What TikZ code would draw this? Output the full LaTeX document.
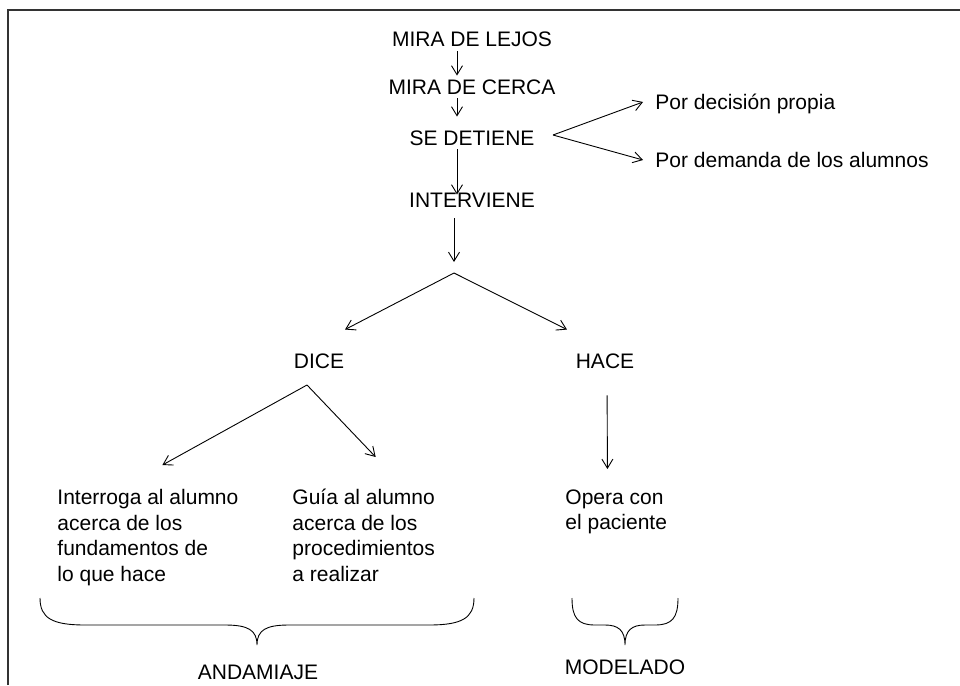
\documentclass[tikz,border=0pt]{standalone}
\usepackage{fontspec}
\setmainfont{Liberation Sans}
\usetikzlibrary{arrows.meta}

\begin{document}
\begin{tikzpicture}[>={Straight Barb[length=9pt,width=11pt]}, x=1pt, y=-1pt, line width=0.9pt,
    word/.style={anchor=base, inner sep=4pt, text height=14pt, text depth=0pt, font=\fontsize{21}{25.5}\selectfont},
    block/.style={anchor=north west, inner sep=0pt, align=left, font=\fontsize{21}{25.5}\selectfont}]
    \useasboundingbox (0,0) rectangle (960,685);
    % frame
    \draw [line width=1.5pt, black!80] (8,685) -- (8,10) -- (960,10);

    % what the teacher does
    \node (lejos) at (472,47) [word] {MIRA DE LEJOS};
    \node (cerca) at (472,94) [word] {MIRA DE CERCA};
    \node (detiene) at (472,145) [word] {SE DETIENE};
    \node (interviene) at (472,207) [word] {INTERVIENE};

    \node (propia) at (651,109) [word, anchor=base west] {Por decisión propia};
    \node (demanda) at (651,167) [word, anchor=base west] {Por demanda de los alumnos};

    \node (dice) at (319,368) [word] {DICE};
    \node (hace) at (605,368) [word] {HACE};

    \node (interroga) at (57,489) [block] {Interroga al alumno\\acerca de los\\fundamentos de\\lo que hace};
    \node (guia) at (292,489) [block] {Guía al alumno\\acerca de los\\procedimientos\\a realizar};
    \node (opera) at (565,489) [block] {Opera con\\el paciente};

    \node (andamiaje) at (258,679) [word] {ANDAMIAJE};
    \node (modelado) at (625,674) [word] {MODELADO};

    \coordinate (stop) at (553,135);
    \coordinate (split) at (454,273);
    \coordinate (say) at (307,385);

    \draw [->] ([xshift=-15pt]lejos.south) -- ([xshift=-15pt]cerca.north);
    \draw [->, shorten >=10pt] ([xshift=-15pt]cerca.south) -- ([xshift=-15pt]detiene.north);
    \draw [->, shorten >=-6pt] ([xshift=-15pt]detiene.south) -- ([xshift=-15pt]interviene.north);
    \draw [->, shorten <=7pt, shorten >=11pt] ([xshift=-18pt]interviene.south) -- (split);

    \draw [->] (stop) -- ([xshift=-8pt]propia.west);
    \draw [->] (stop) -- ([xshift=-8pt]demanda.west);

    \draw [->] (split) -- ([xshift=26pt, yshift=20pt]dice.north);
    \draw [->] (split) -- ([xshift=-38pt, yshift=20pt]hace.north);

    \draw [->] (say) -- ([xshift=14.5pt, yshift=24pt]interroga.north);
    \draw [->] (say) -- ([xshift=12pt, yshift=32pt]guia.north);
    \draw [->, shorten <=23pt] ([xshift=2pt]hace.south) -- ([xshift=-8.8pt, yshift=20pt]opera.north);

    % braces
    \draw (40,598) .. controls (40,618) and (52,625) .. (85,625) -- (225,625)
        .. controls (248,625) and (257,630) .. (257,645)
        .. controls (257,630) and (266,625) .. (289,625) -- (429,625)
        .. controls (462,625) and (474,618) .. (474,598);
    \draw (572,598) .. controls (572,618) and (578,625) .. (595,625) -- (605,625)
        .. controls (618,625) and (625,630) .. (625,645)
        .. controls (625,630) and (632,625) .. (645,625) -- (655,625)
        .. controls (672,625) and (678,618) .. (678,598);
\end{tikzpicture}
\end{document}
